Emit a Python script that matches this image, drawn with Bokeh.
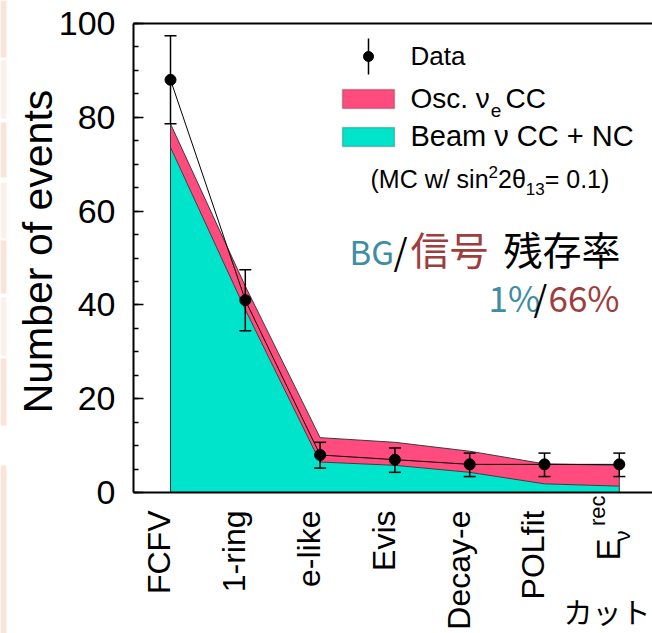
import math
from bokeh.plotting import figure
from bokeh.models import (Range1d, Label, BoxAnnotation, SingleIntervalTicker,
                          FixedTicker, LinearAxis)
from bokeh.embed import file_html
from bokeh.resources import INLINE

# ---------------- data ----------------
cuts = ["FCFV", "1-ring", "e-like", "Evis", "Decay-e", "POLfit"]
last_cut = ("E", "\u03bd", "rec")          # E_nu^rec
data = [88, 41, 8, 7, 6, 6, 6]
err_hi = [97.4, 47.5, 10.7, 9.5, 8.4, 8.4, 8.4]
err_lo = [78.6, 34.5, 5.2, 4.3, 3.4, 3.4, 3.4]
beam_bg = [73.6, 39.0, 6.5, 5.8, 4.3, 1.85, 1.35]
osc_sig = [5.0, 5.0, 5.2, 4.9, 4.5, 4.25, 4.45]
y_tick_interval = 20
y_min, y_max = 0, 100

RED = "#FF4B7D"
CYAN = "#00E4CB"
EDGE = "#3c3c3c"
TEAL_TXT = "#3E8DA3"
RED_TXT = "#9E3D3D"
LAT = "Liberation Sans"
CJK = "Noto Sans CJK JP"
# distance (in em) from the alphabetic baseline to the middle of the font box
MID = {LAT: 0.3465, CJK: 0.436}
# advance widths (1/1000 em) of Liberation Sans for the legend texts
ADV = {' ': 278, '(': 333, ')': 333, '.': 278, '/': 278, '0': 556, '1': 556, '2': 556,
       '3': 556, '=': 584, '+': 584, 'C': 722, 'M': 833, 'N': 722, 'O': 778, 'B': 667,
       'a': 556, 'c': 500, 'e': 556, 'i': 222, 'm': 833, 'n': 556, 's': 500, 'w': 722,
       '\u03b8': 556, '\u03bd': 500}

# ---------------- geometry (pixels) ----------------
W, H = 652, 633
AX_L, AX_R, AX_T, AX_B = 133, 652, 23, 492      # axis box in pixels
CAT0_PX, CAT_STEP = 170, 74.8                      # first category, spacing

SX = CAT_STEP                                      # px per x unit
SY = (AX_B - AX_T) / (y_max - y_min)               # px per y unit
x_start = -CAT0_PX / SX
x_end = (W - CAT0_PX) / SX
y_end = y_max + AX_T / SY
y_start = y_min - (H - AX_B) / SY
x_axis_l = (AX_L - CAT0_PX) / SX
x_axis_r = (AX_R - CAT0_PX) / SX


def dx(sx):
    return x_start + sx / SX


def dy(sy):
    return y_end - sy / SY


p = figure(width=W, height=H, x_range=Range1d(x_start, x_end),
           y_range=Range1d(y_start, y_end),
           output_backend="svg", toolbar_location=None,
           min_border=0)
p.outline_line_color = None
p.grid.visible = False
p.background_fill_color = "white"
p.border_fill_color = "white"

# x axis: only the line, at y = 0
p.xaxis.fixed_location = y_min
p.xaxis.bounds = (x_axis_l, x_axis_r)
p.xaxis.ticker = FixedTicker(ticks=[])
p.xaxis.axis_line_width = 2
p.xaxis.axis_line_color = "black"
p.xaxis.major_tick_line_color = None
p.xaxis.minor_tick_line_color = None

# y axis
p.yaxis.fixed_location = x_axis_l
p.yaxis.bounds = (y_min, y_max)
p.yaxis.ticker = SingleIntervalTicker(interval=y_tick_interval, num_minor_ticks=4)
p.yaxis.axis_line_width = 2
p.yaxis.axis_line_color = "black"
p.yaxis.major_tick_in = 10
p.yaxis.major_tick_out = 0
p.yaxis.minor_tick_in = 5
p.yaxis.minor_tick_out = 0
p.yaxis.major_tick_line_width = 1.5
p.yaxis.minor_tick_line_width = 1.5
p.yaxis.major_tick_line_color = "black"
p.yaxis.minor_tick_line_color = "black"
p.yaxis.major_label_text_font = LAT
p.yaxis.major_label_text_font_size = "34px"
p.yaxis.major_label_text_color = "black"
p.yaxis.major_label_standoff = 18

# top frame line
top_axis = LinearAxis(fixed_location=y_max, bounds=(x_axis_l, x_axis_r),
                      ticker=FixedTicker(ticks=[]), axis_line_width=2,
                      axis_line_color="black", major_tick_line_color=None,
                      minor_tick_line_color=None)
p.add_layout(top_axis, "above")

# ---------------- data marks ----------------
x = list(range(len(data)))
total = [b + s for b, s in zip(beam_bg, osc_sig)]
zeros = [0] * len(x)

p.varea(x=x, y1=zeros, y2=beam_bg, fill_color=CYAN)
p.varea(x=x, y1=beam_bg, y2=total, fill_color=RED)
p.line(x, beam_bg, line_color=EDGE, line_width=1)
p.line(x, total, line_color=EDGE, line_width=1)
p.segment(x0=[x[0], x[-1]], y0=[0, 0], x1=[x[0], x[-1]], y1=[total[0], total[-1]],
          line_color=EDGE, line_width=1)

p.line(x, data, line_color="black", line_width=1)
p.segment(x0=x, y0=err_lo, x1=x, y1=err_hi, line_color="black", line_width=1.5)
p.scatter(x, err_hi, marker="dash", size=12, line_color="black", line_width=1.5)
p.scatter(x, err_lo, marker="dash", size=12, line_color="black", line_width=1.5)
p.scatter(x, data, size=11, fill_color="black", line_color="black")


# ---------------- text helpers ----------------
def put(txt, sx, sy, size, font=LAT, color="black", align="left"):
    """Horizontal text whose alphabetic baseline starts at pixel (sx, sy)."""
    p.add_layout(Label(x=dx(sx), y=dy(sy), y_offset=MID[font] * size, text=txt,
                       text_font=font, text_font_size=f"{size}px", text_color=color,
                       text_align=align, text_baseline="middle"))


def put_vert(txt, xv, off_x, off_y, size, font=LAT, align="right", yv=0.0):
    """Text rotated 90 deg; baseline at data x + off_x px, anchor at y + off_y px."""
    p.add_layout(Label(x=xv, y=yv, x_offset=off_x - MID[font] * size, y_offset=off_y,
                       text=txt, angle=math.pi / 2, text_align=align,
                       text_baseline="middle", text_font=font,
                       text_font_size=f"{size}px", text_color="black"))


def flow(pieces, sx, sy):
    """Consecutive pieces (text, size, baseline shift px, extra gap px before)."""
    for txt, size, shift, gap in pieces:
        sx += gap
        put(txt, sx, sy + shift, size)
        sx += sum(ADV.get(ch, 556) for ch in txt) * size / 1000.0


# ---------------- category labels ----------------
for i, name in enumerate(cuts):
    put_vert(name, i, 0, -18, 32)
i_last = len(cuts)
put_vert(last_cut[0], i_last, 1, -46, 33)
put_vert(last_cut[1], i_last, 11, -38, 22)
put_vert(last_cut[2], i_last, -14, -3, 22)

# y axis title
put_vert("Number of events", dx(52), 0, 0, 41, align="center", yv=dy(251))

# x axis title
put("カット", 650, 623, 29, font=CJK, align="right")

# ---------------- legend ----------------
p.segment(x0=[dx(368)], y0=[dy(38)], x1=[dx(368)], y1=[dy(74)], line_color="black", line_width=1.5)
p.scatter([dx(368)], [dy(56)], size=10, fill_color="black", line_color="black")
put("Data", 410, 65, 26)

p.add_layout(BoxAnnotation(left=dx(342), right=dx(394), top=dy(89), bottom=dy(108),
                           fill_color=RED, fill_alpha=1, line_color=EDGE, line_width=1.5))
flow([("Osc. \u03bd", 28, 0, 0), ("e", 19, 9, 1), (" CC", 28, 0, 4)], 410, 108)

p.add_layout(BoxAnnotation(left=dx(342), right=dx(394), top=dy(127), bottom=dy(146),
                           fill_color=CYAN, fill_alpha=1, line_color=EDGE, line_width=1.5))
put("Beam \u03bd CC + NC", 410, 146, 29)

flow([("(MC w/ sin", 25, 0, 0), ("2", 17, -10, 0), ("2\u03b8", 25, 0, 0), ("13", 17, 7, 0),
      ("= 0.1)", 25, 0, 0)], 370, 187)

# ---------------- annotation text ----------------
for txt, sx, col, size in [("BG", 349, TEAL_TXT, 33), ("/", 393, "black", 36),
                           ("信号", 410, RED_TXT, 39), ("残存率", 503, "black", 39)]:
    put(txt, sx, 265, size, font=CJK, color=col)
for txt, sx, col in [("1%", 488, TEAL_TXT), ("/", 533, "black"), ("66%", 548, RED_TXT)]:
    put(txt, sx, 311, 35, font=CJK, color=col)

# slide-edge strips at far left
for top, bot, col in [(0, 57, "#FCE3DA"), (60, 118, "#FBF0EC"), (122, 177, "#FCE3DA"),
                      (182, 238, "#FBF0EC"), (240, 293, "#FCE3DA"), (297, 355, "#FBF0EC"),
                      (358, 425, "#FCE3DA"), (465, 633, "#FCE3DA")]:
    p.add_layout(BoxAnnotation(left=dx(0), right=dx(6), top=dy(top), bottom=dy(bot),
                               fill_color=col, fill_alpha=1, line_color=None))

open("out.html", "w").write(file_html(p, INLINE))
